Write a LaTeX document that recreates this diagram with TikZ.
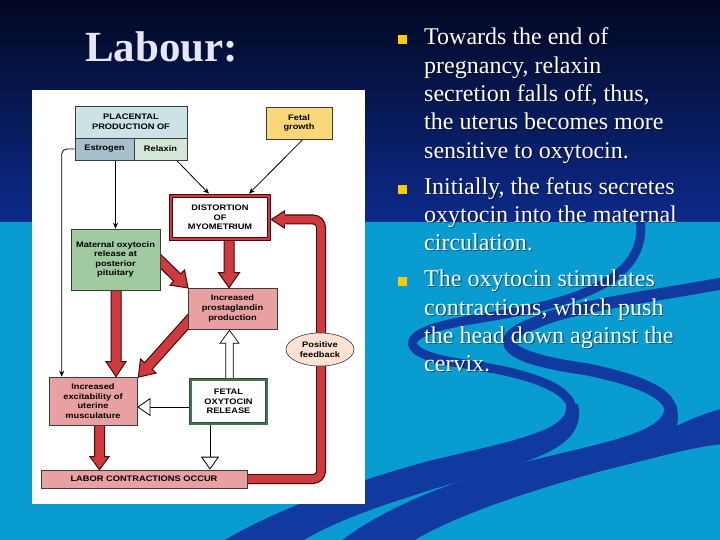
\documentclass[tikz,border=0pt]{standalone}
\usepackage{fontspec}
\setmainfont{Liberation Serif}
\newfontfamily\diagfont[FakeStretch=1.16]{Liberation Sans}
\usetikzlibrary{arrows.meta,calc,shapes.geometric}
\pgfdeclarelayer{bg}
\pgfdeclarelayer{arr}
\pgfsetlayers{bg,arr,main}
\definecolor{navytop}{RGB}{2,8,34}
\definecolor{navybot}{RGB}{12,42,138}
\definecolor{skyblue}{RGB}{8,156,208}
\definecolor{swirlc}{RGB}{16,58,160}
\definecolor{titlecol}{RGB}{230,230,250}
\definecolor{bulletcol}{RGB}{255,204,0}
\definecolor{plac}{RGB}{205,226,230}
\definecolor{estro}{RGB}{168,190,202}
\definecolor{relax}{RGB}{212,230,216}
\definecolor{fetalg}{RGB}{250,216,120}
\definecolor{matern}{RGB}{160,202,160}
\definecolor{pinkbox}{RGB}{232,160,160}
\definecolor{feedb}{RGB}{251,226,210}
\definecolor{arrred}{RGB}{206,58,62}
\definecolor{arrdark}{RGB}{70,10,10}
\definecolor{fetalgreen}{RGB}{60,120,75}
\definecolor{boxline}{RGB}{60,60,60}
\newcommand{\dgfont}{\diagfont\bfseries\fontsize{8}{9.6}\selectfont}
% block arrow: [style]{start}{tip}{half shaft}{half head}{head length}
\newcommand{\blockarr}[6][redarrow]{%
  \coordinate (bah) at ($(#3)!#6!(#2)$);
  \filldraw[#1] ($(#2)!#4!90:(#3)$) -- ($(bah)!#4!90:(#3)$) -- ($(bah)!#5!90:(#3)$) -- (#3)
    -- ($(bah)!#5!-90:(#3)$) -- ($(bah)!#4!-90:(#3)$) -- ($(#2)!#4!-90:(#3)$) -- cycle;}
\newcommand{\bline}[3]{%
  \node[btext,text=black,opacity=.45] (#1s) at (425.2,#2+1.2) {#3};
  \node[btext] (#1) at (424,#2) {#3};}
\begin{document}
\begin{tikzpicture}[x=1pt,y=-1pt,
  box/.style={draw=boxline, line width=0.6pt, inner sep=0pt, align=center, font=\dgfont, text=black},
  thinarr/.style={draw=black, line width=0.8pt, -{Stealth[length=6pt,width=5pt]}},
  openarr/.style={draw=black, line width=0.8pt, -{Triangle[length=13pt,width=18pt,fill=white,line width=0.8pt]}},
  redarrow/.style={fill=arrred, draw=arrdark, line width=1pt, line join=miter},
  hollow/.style={fill=white, draw=black, line width=0.7pt, line join=miter},
  fbshaft/.style={draw=arrdark, line width=1.2pt, double=arrred, double distance=7.6pt},
  btext/.style={anchor=base west, inner sep=0pt, text=white, font=\fontsize{24}{28}\selectfont},
  bsq/.style={fill=bulletcol, minimum size=9pt, inner sep=0pt}]
\useasboundingbox (0,0) rectangle (720,540);

\begin{pgfonlayer}{bg}
  \shade[top color=navytop, bottom color=navybot] (0,0) rectangle (720,222);
  \fill[skyblue] (0,222) rectangle (720,540);
  \begin{scope}
    \clip (0,222) rectangle (720,540);
    % band A
    \draw[swirlc, line width=9pt] (640,218) .. controls (650,285) and (565,305) .. (470,320)
       .. controls (390,333) and (398,355) .. (465,364) .. controls (535,374) and (574,390) .. (572,412);
    \fill[swirlc] (566,404) .. controls (572,432) and (505,442) .. (425,462)
       .. controls (345,484) and (262,515) .. (212,548) -- (292,548)
       .. controls (335,516) and (430,490) .. (512,466) .. controls (565,450) and (584,432) .. (578,404) -- cycle;
    % band B
    \draw[swirlc, line width=12pt] (725,283) .. controls (640,298) and (565,308) .. (535,323)
       .. controls (488,340) and (505,358) .. (585,369) .. controls (645,381) and (674,396) .. (670,414);
    \fill[swirlc] (664,404) .. controls (670,432) and (605,442) .. (525,462)
       .. controls (445,482) and (375,512) .. (332,548) -- (402,548)
       .. controls (450,515) and (540,488) .. (612,468) .. controls (668,452) and (684,434) .. (676,404) -- cycle;
    % band C
    \fill[swirlc] (725,408) .. controls (690,416) and (655,438) .. (615,455) -- (605,470)
       .. controls (655,458) and (695,446) .. (725,444) -- cycle;
  \end{scope}
  \fill[white] (32,90) rectangle (365,504);
\end{pgfonlayer}

% title
\node[anchor=base west, inner sep=0pt, text=titlecol, font=\bfseries\fontsize{43}{50}\selectfont] (title) at (85,61.5) {Labour:};

% bullets
\node[bsq] (b1) at (402.5,40) {};
\node[bsq] (b2) at (402.5,189.3) {};
\node[bsq] (b3) at (402.5,281.7) {};
\bline{l1}{45}{Towards the end of}
\bline{l2}{73.3}{pregnancy, relaxin}
\bline{l3}{101.7}{secretion falls off, thus,}
\bline{l4}{130}{the uterus becomes more}
\bline{l5}{158.3}{sensitive to oxytocin.}
\bline{l6}{194.3}{Initially, the fetus secretes}
\bline{l7}{222.3}{oxytocin into the maternal}
\bline{l8}{250.3}{circulation.}
\bline{l9}{286.7}{The oxytocin stimulates}
\bline{l10}{315}{contractions, which push}
\bline{l11}{343.3}{the head down against the}
\bline{l12}{371.7}{cervix.}

% diagram boxes
\node[box, fill=plac, minimum width=112pt, minimum height=32pt] (plac) at (131,122) {PLACENTAL\\PRODUCTION OF};
\node[box, fill=estro, minimum width=59pt, minimum height=22pt] (estro) at (104.5,149) {Estrogen};
\node[box, fill=relax, minimum width=53pt, minimum height=22pt] (relax) at (160.5,149) {Relaxin};
\node[box, fill=fetalg, minimum width=66pt, minimum height=32pt] (fgrow) at (299,123) {Fetal\\growth};
\node[box, draw=arrdark, double=arrred, double distance=2.6pt, line width=.6pt, fill=white,
      minimum width=98pt, minimum height=43pt] (dist) at (220,217.5) {DISTORTION\\OF\\MYOMETRIUM};
\node[box, fill=matern, minimum width=89pt, minimum height=61pt] (mat) at (115.5,259.5) {Maternal oxytocin\\release at\\posterior\\pituitary};
\node[box, fill=pinkbox, minimum width=89pt, minimum height=41pt] (prost) at (232.5,308.5) {Increased\\prostaglandin\\production};
\node[box, ellipse, fill=feedb, minimum width=68pt, minimum height=33pt] (pfb) at (320,349.5) {Positive\\feedback};
\node[box, fill=pinkbox, minimum width=88pt, minimum height=48pt] (exc) at (93,401) {Increased\\excitability of\\uterine\\musculature};
\node[box, draw=black!75, double=fetalgreen, double distance=2pt, line width=.5pt, fill=white,
      minimum width=76pt, minimum height=44pt] (fetal) at (228.5,401.5) {FETAL\\OXYTOCIN\\RELEASE};
\node[box, fill=pinkbox, minimum width=206pt, minimum height=18pt] (labor) at (144,479) {LABOR CONTRACTIONS OCCUR};

% connectors
\begin{pgfonlayer}{arr}
  % thin black arrows
  \coordinate (eL) at ($(exc.north west)+(13,0)$);
  \draw[thinarr, rounded corners=5pt] (estro.west) -| (eL);
  \draw[thinarr] (mat.north |- estro.south) -- (mat.north);
  \coordinate (rx) at ($(relax.south)+(16,0)$);
  \coordinate (dx1) at ($(dist.north)+(-11,-2)$);
  \draw[thinarr] (rx) -- (dx1);
  \coordinate (fg) at ($(fgrow.south)+(4,0)$);
  \coordinate (dx2) at ($(dist.north)+(29,-2)$);
  \draw[thinarr] (fg) -- (dx2);
  % red block arrows
  \coordinate (r1a) at ($(dist.south)+(9,-1)$);
  \coordinate (r1b) at (prost.north -| r1a);
  \blockarr{r1a}{r1b}{5pt}{10.5pt}{15pt}
  \coordinate (r2a) at ($(mat.east)+(-4.7,-3)$);
  \coordinate (r2b) at ($(prost.north west)+(0.3,0.3)$);
  \blockarr{r2a}{r2b}{5pt}{10.5pt}{15pt}
  \coordinate (r3a) at ($(mat.south)+(0.5,-2)$);
  \coordinate (r3b) at (exc.north -| r3a);
  \blockarr{r3a}{r3b}{5pt}{10pt}{15pt}
  \coordinate (r4a) at ($(prost.west)+(5.4,7.6)$);
  \coordinate (r4b) at ($(exc.north east)+(1,0.5)$);
  \blockarr{r4a}{r4b}{5pt}{10.5pt}{15pt}
  \coordinate (r5a) at ($(exc.south)+(6.5,-2)$);
  \coordinate (r5b) at (labor.north -| r5a);
  \blockarr{r5a}{r5b}{5pt}{9.5pt}{13pt}
  % hollow arrows
  \coordinate (h1a) at ($(fetal.north)+(1,3)$);
  \coordinate (h1b) at ($(prost.south -| h1a)+(0,1)$);
  \blockarr[hollow]{h1a}{h1b}{3.7pt}{9.5pt}{13pt}
  \coordinate (h2a) at ($(fetal.west)+(0,5.5)$);
  \coordinate (h2b) at (exc.east |- h2a);
  \draw[openarr] (h2a) -- (h2b);
  \coordinate (h3a) at ($(fetal.south)+(-18.5,0)$);
  \coordinate (h3b) at (labor.north -| h3a);
  \draw[openarr] (h3a) -- (h3b);
  % positive feedback loop
  \coordinate (fbs) at ($(labor.east)+(-2,0)$);
  \coordinate (fbc) at (321,219.5);
  \coordinate (fbtip) at ($(dist.east)+(2,2)$);
  \coordinate (fbh) at ($(fbtip)+(13,0)$);
  \draw[fbshaft, rounded corners=8pt] (fbs) -| (fbc) -- (fbh);
  \filldraw[redarrow] ($(fbh)!5pt!90:(fbtip)$) -- ($(fbh)!8.5pt!90:(fbtip)$) -- (fbtip)
     -- ($(fbh)!8.5pt!-90:(fbtip)$) -- ($(fbh)!5pt!-90:(fbtip)$);
\end{pgfonlayer}
\end{tikzpicture}
\end{document}
